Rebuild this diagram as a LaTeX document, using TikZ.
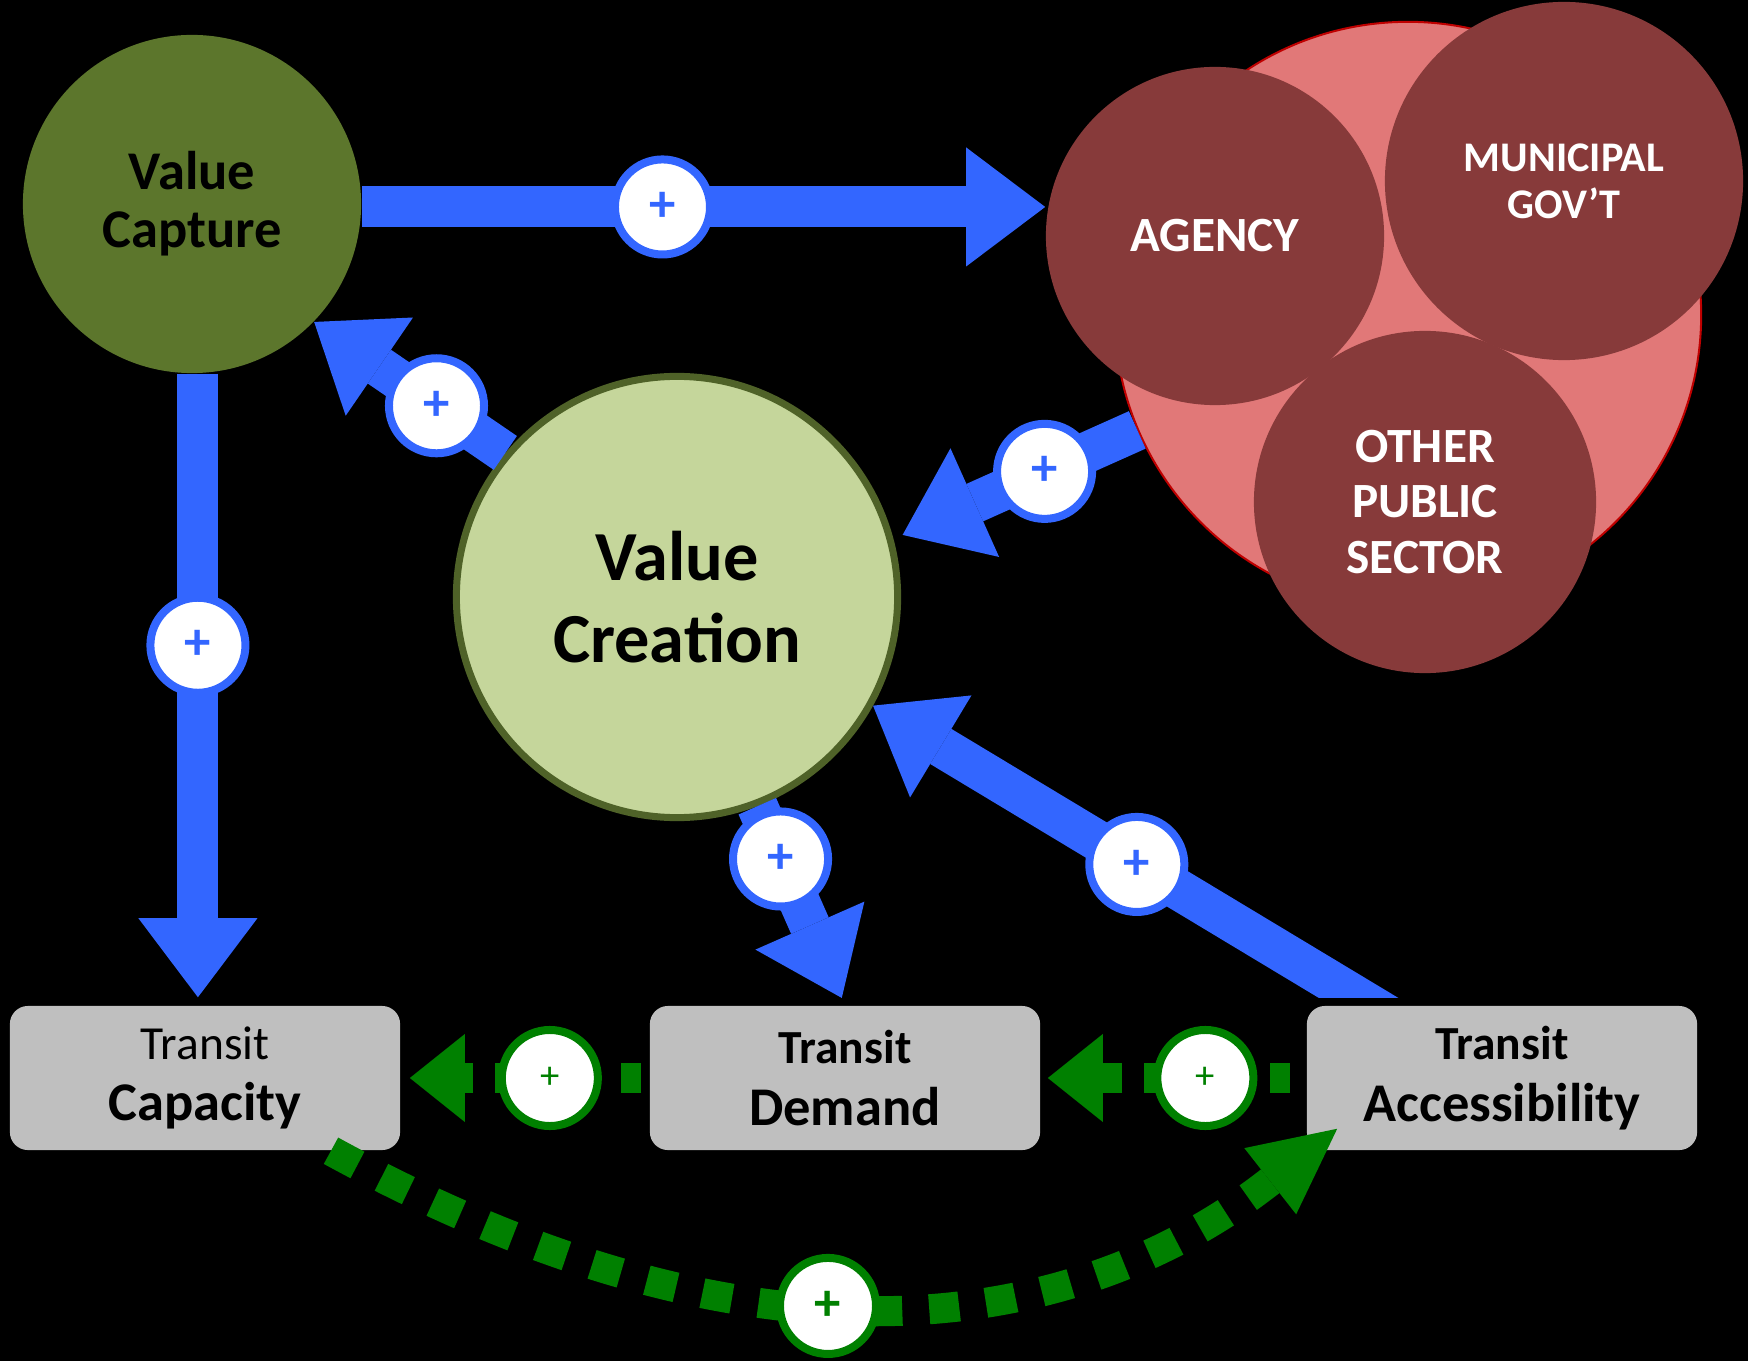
\documentclass[tikz,border=0pt]{standalone}
\usepackage{fontspec}
\setmainfont{Carlito}
\usetikzlibrary{arrows.meta}

\definecolor{arrowblue}{RGB}{51,102,255}
\definecolor{loopgreen}{RGB}{0,128,0}
\definecolor{capturegreen}{RGB}{92,118,44}
\definecolor{creategreen}{RGB}{197,214,155}
\definecolor{olivedark}{RGB}{79,98,40}
\definecolor{publicred}{RGB}{225,120,120}
\definecolor{publicdark}{RGB}{135,58,58}
\definecolor{boxgray}{RGB}{191,191,191}

\begin{document}
\begin{tikzpicture}[x=0.01cm, y=-0.01cm,
  bluearr/.style={draw=arrowblue, line width=0.41cm, -{Triangle[width=1.19cm,length=0.79cm,line width=0pt]}},
  greenarr/.style={draw=loopgreen, line width=0.29cm, dash pattern=on 0.2cm off 0.22cm, -{Triangle[width=0.88cm,length=0.55cm,line width=0pt]}},
  bplus/.style={circle, draw=arrowblue, line width=0.08cm, fill=white, minimum size=0.95cm, inner sep=0pt, text=arrowblue, font=\bfseries\fontsize{15}{15}\selectfont},
  gplus/.style={circle, solid, draw=loopgreen, line width=0.08cm, fill=white, minimum size=0.96cm, inner sep=0pt, text=loopgreen, font=\fontsize{11}{11}\selectfont},
  transit/.style={rectangle, rounded corners=0.18cm, fill=boxgray, minimum width=3.9cm, minimum height=1.44cm, align=center, inner sep=0pt, font=\bfseries\fontsize{13.5}{17.6}\selectfont},
  sector/.style={circle, fill=publicdark, inner sep=0pt, text=white, align=center, font=\bfseries\fontsize{14}{15.8}\selectfont}]

\fill[black, use as bounding box] (0,0) rectangle (1748,1361);

% value circles
\node[circle, fill=capturegreen, minimum size=3.38cm, inner sep=0pt, align=center, font=\bfseries\fontsize{15.5}{16.5}\selectfont] (capture) at (192,204) {Value\\Capture};
\node[circle, fill=creategreen, draw=olivedark, line width=0.07cm, minimum size=4.41cm, inner sep=0pt, align=center, font=\bfseries\fontsize{20}{23.3}\selectfont] (creation) at (677,597) {Value\\Creation};

% public sector cluster
\node[circle, fill=publicred, draw=red!75!black, line width=0.02cm, minimum size=5.86cm] (public) at (1408,315) {};
\node[sector, minimum size=3.38cm] (agency) at (1215,236) {AGENCY};
\node[sector, minimum size=3.58cm, font=\bfseries\fontsize{12}{13.4}\selectfont] (municipal) at (1564,181) {MUNICIPAL\\GOV’T};
\node[sector, minimum size=3.42cm] (other) at (1425,502) {OTHER\\PUBLIC\\SECTOR};

% transit boxes
\node[transit] (capacity) at (205,1078) {{\mdseries Transit}\\\fontsize{15.5}{17.6}\selectfont Capacity};
\node[transit] (demand) at (845,1078) {Transit\\\fontsize{15.5}{17.6}\selectfont Demand};
\node[transit] (access) at (1502,1078) {Transit\\\fontsize{15.5}{17.6}\selectfont Accessibility};

% blue links
\draw[bluearr] (capture.-1.4) -- (capture.-1.4 -| agency.west) node[bplus, pos=0.44] (p1) {+};
\draw[bluearr] (creation.140) -- (capture.-44) node[bplus, pos=0.36] (p2) {+};
\draw[bluearr, shorten >=0.1cm] (public.203) -- (creation.15) node[bplus, pos=0.38] (p3) {+};
\draw[bluearr, shorten >=0.08cm] (capture.-88) -- (capture.-88 |- capacity.north) node[bplus, pos=0.43] (p4) {+};
\draw[bluearr, shorten >=0.08cm] (creation.-69) -- (demand.north) node[bplus, pos=0.265] (p5) {+};
\begin{scope}
  \clip (0,0) rectangle (1748,997);
  \draw[bluearr, shorten <=-0.3cm] (access.151) -- (creation.-29.5) node[bplus, pos=0.47] (p6) {+};
\end{scope}

% green links
\draw[greenarr, shorten <=0.08cm, shorten >=0.09cm] (demand.west) -- (capacity.east) node[gplus, pos=0.40] (p7) {+};
\draw[greenarr, shorten <=0.16cm, shorten >=0.07cm] (access.west) -- (demand.east) node[gplus, pos=0.38] (p8) {+};
\draw[greenarr, line width=0.3cm, dash pattern=on 0.3cm off 0.27cm, -{Triangle[width=0.84cm,length=0.85cm,line width=0pt]}]
  (capacity.-30) .. controls (794,1404) and (1102,1313) .. ([shift={(31,-22)}]access.south west)
  node[gplus, pos=0.41, font=\bfseries\fontsize{15}{15}\selectfont] (p9) {+};
\end{tikzpicture}
\end{document}
